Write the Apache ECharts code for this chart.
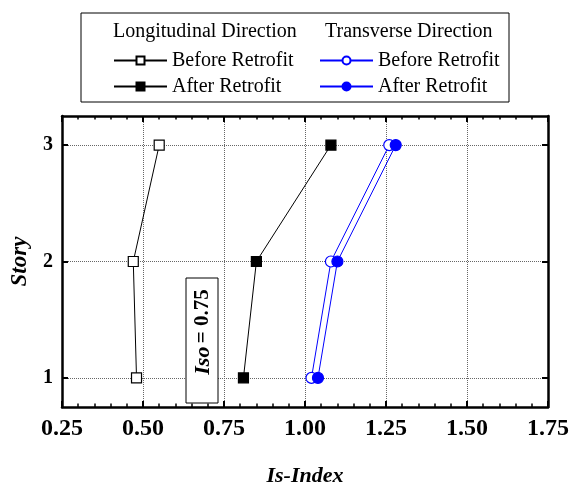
<!DOCTYPE html>
<html>
<head>
<meta charset="utf-8">
<script src="https://cdn.jsdelivr.net/npm/echarts@6/dist/echarts.min.js"></script>
<style>
  html, body { margin: 0; padding: 0; background: #fff; }
  #chart { width: 571px; height: 484px; }
</style>
</head>
<body>
<div id="chart"></div>
<script>
// story levels (y) and Is-Index values (x)
var stories = [1, 2, 3];
var longBefore = [0.48, 0.47, 0.55];
var longAfter = [0.81, 0.85, 1.08];
var transBefore = [1.02, 1.08, 1.26];
var transAfter = [1.04, 1.10, 1.28];
var xTicks = [0.25, 0.50, 0.75, 1.00, 1.25, 1.50, 1.75];

var serif = '"Liberation Serif", "Times New Roman", serif';

function pairs(xs) {
    return xs.map(function (x, i) { return [x, stories[i]]; });
}

var myChart = echarts.init(document.getElementById('chart'));

var tickStyle = { color: '#000', width: 2 };
var frameLine = { show: true, onZero: false, lineStyle: { color: '#000', width: 2.5 } };
var gridLine = { show: true, lineStyle: { color: '#666', type: 'dotted', width: 1 } };

function makeSeries(name, xs, symbol, color, filled) {
    return {
        name: name,
        type: 'line',
        data: pairs(xs),
        symbol: symbol,
        symbolSize: symbol === 'rect' ? 10 : 11,
        showSymbol: true,
        lineStyle: { color: color, width: 1 },
        itemStyle: { color: filled ? color : '#fff', borderColor: color, borderWidth: 1.2 },
        z: filled ? 3 : 2
    };
}

var option = {
    animation: false,
    grid: { left: 62, right: 23, top: 116, bottom: 77, outerBoundsMode: 'none', containLabel: false },
    legend: [{
        data: ['Longitudinal Before Retrofit', 'Longitudinal After Retrofit'],
        orient: 'vertical',
        left: 113,
        top: 50,
        padding: 0,
        itemWidth: 53,
        itemHeight: 10,
        itemGap: 5,
        formatter: function (n) { return n.replace('Longitudinal ', ''); },
        textStyle: { fontFamily: serif, fontSize: 20, color: '#000', lineHeight: 21 }
    }, {
        data: ['Transverse Before Retrofit', 'Transverse After Retrofit'],
        orient: 'vertical',
        left: 319,
        top: 50,
        padding: 0,
        itemWidth: 53,
        itemHeight: 10,
        itemGap: 5,
        formatter: function (n) { return n.replace('Transverse ', ''); },
        textStyle: { fontFamily: serif, fontSize: 20, color: '#000', lineHeight: 21 }
    }],
    xAxis: [{
        type: 'value',
        position: 'bottom',
        min: 0.25,
        max: 1.75,
        interval: 0.25,
        name: 'Is-Index',
        nameLocation: 'middle',
        nameGap: 58,
        nameTextStyle: { fontFamily: serif, fontSize: 22, fontWeight: 'bold', fontStyle: 'italic', color: '#000' },
        axisLine: frameLine,
        axisTick: { show: true, inside: true, length: 6, lineStyle: tickStyle },
        minorTick: { show: true, splitNumber: 5, length: 3.5, lineStyle: { color: '#000', width: 1.5 } },
        axisLabel: {
            margin: 10,
            fontFamily: serif, fontSize: 24, fontWeight: 'bold', color: '#000',
            formatter: function (v) { return v.toFixed(2); }
        },
        splitLine: gridLine
    }, {
        type: 'value',
        position: 'top',
        min: 0.25,
        max: 1.75,
        interval: 0.25,
        axisLine: frameLine,
        axisTick: { show: true, inside: true, length: 6, lineStyle: tickStyle },
        minorTick: { show: true, splitNumber: 5, length: 3.5, lineStyle: { color: '#000', width: 1.5 } },
        axisLabel: { show: false },
        splitLine: { show: false }
    }],
    yAxis: [{
        type: 'value',
        position: 'left',
        min: 0.75,
        max: 3.25,
        name: 'Story',
        nameLocation: 'middle',
        nameGap: 30,
        nameTextStyle: { fontFamily: serif, fontSize: 23, fontWeight: 'bold', fontStyle: 'italic', color: '#000' },
        axisLine: frameLine,
        axisTick: { show: true, inside: true, length: 6, lineStyle: tickStyle, customValues: stories },
        axisLabel: {
            margin: 9,
            fontFamily: serif, fontSize: 20, fontWeight: 'bold', color: '#000',
            customValues: stories
        },
        splitLine: gridLine
    }, {
        type: 'value',
        position: 'right',
        min: 0.75,
        max: 3.25,
        axisLine: frameLine,
        axisTick: { show: true, inside: true, length: 6, lineStyle: tickStyle, customValues: stories },
        axisLabel: { show: false, customValues: stories },
        splitLine: { show: false }
    }],
    graphic: [{
        type: 'rect',
        shape: { x: 81, y: 13, width: 428, height: 89 },
        style: { fill: 'none', stroke: '#000', lineWidth: 1 },
        z: 10
    }, {
        type: 'text',
        x: 113, y: 32,
        style: { text: 'Longitudinal Direction', fontFamily: serif, fontSize: 20, fill: '#000', verticalAlign: 'middle' },
        z: 10
    }, {
        type: 'text',
        x: 325, y: 32,
        style: { text: 'Transverse Direction', fontFamily: serif, fontSize: 20, fill: '#000', verticalAlign: 'middle' },
        z: 10
    }, {
        type: 'rect',
        shape: { x: 186, y: 278, width: 32, height: 125 },
        style: { fill: '#fff', stroke: '#000', lineWidth: 1 },
        z: 10
    }, {
        type: 'text',
        x: 203, y: 332,
        rotation: Math.PI / 2,
        style: {
            text: '{i|Iso} {b|= 0.75}',
            align: 'center',
            verticalAlign: 'middle',
            rich: {
                i: { fontFamily: serif, fontSize: 22, fontWeight: 'bold', fontStyle: 'italic', fill: '#000' },
                b: { fontFamily: serif, fontSize: 21, fontWeight: 'bold', fill: '#000' }
            }
        },
        z: 11
    }],
    series: [
        makeSeries('Longitudinal Before Retrofit', longBefore, 'rect', '#000', false),
        makeSeries('Longitudinal After Retrofit', longAfter, 'rect', '#000', true),
        makeSeries('Transverse Before Retrofit', transBefore, 'circle', '#0000ff', false),
        makeSeries('Transverse After Retrofit', transAfter, 'circle', '#0000ff', true)
    ]
};

myChart.setOption(option);
</script>
</body>
</html>
